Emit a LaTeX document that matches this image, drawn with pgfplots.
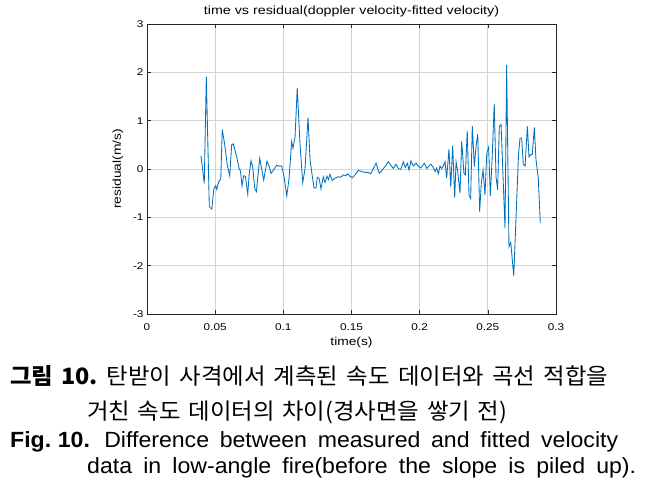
\documentclass[border=0pt]{standalone}
\usepackage{pgfplots}
\pgfplotsset{compat=1.18}
\usepackage{fontspec}
\setmainfont{Liberation Sans}
\newfontfamily\chartfont[FakeStretch=1.2]{Liberation Sans}
\newfontfamily\capfont[FakeStretch=1.05]{Liberation Sans}
\newfontfamily\kr[FakeStretch=1.04]{Noto Sans CJK KR}
\definecolor{mblue}{RGB}{0,114,189}

\begin{document}
\begin{tikzpicture}
\useasboundingbox (0,0) rectangle (653pt,-487pt);
\begin{axis}[
  at={(147pt,-314pt)}, anchor=south west,
  scale only axis, width=409pt, height=290pt,
  xmin=0, xmax=0.3, ymin=-3, ymax=3,
  xtick={0,0.05,0.1,0.15,0.2,0.25,0.3},
  ytick={-3,-2,-1,0,1,2,3},
  grid=major, major grid style={black!17, line width=0.7pt},
  axis line style={black!85, line width=0.6pt},
  tick style={black!85, line width=0.6pt}, major tick length=4pt,
  tick align=inside,
  /pgf/number format/assume math mode=true,
  /pgf/number format/fixed,
  /pgf/number format/precision=2,
  ticklabel style={font=\chartfont\fontsize{9.8}{11}\selectfont},
  xticklabel style={anchor=base}, xticklabel shift=16pt,
  title={time vs residual(doppler velocity-fitted velocity)},
  title style={font=\chartfont\fontsize{11.9}{13}\selectfont, at={(axis description cs:0.5,1.0121)}, anchor=base},
  xlabel={time(s)},
  xlabel style={font=\chartfont\fontsize{11.5}{13}\selectfont, at={(axis description cs:0.5,-0.1103)}, anchor=base},
  ylabel={residual(m/s)},
  ylabel style={font=\chartfont\fontsize{11.5}{13}\selectfont, at={(axis description cs:-0.0709,0.5)}, anchor=center},
]
\addplot[mblue, line width=0.85pt] coordinates {
(0.0396,0.275) (0.0420,-0.30) (0.0435,1.91) (0.0457,-0.78) (0.0475,-0.83)
(0.0491,-0.40) (0.0504,-0.35) (0.0511,-0.42) (0.0526,-0.26) (0.0541,-0.21)
(0.0552,0.82) (0.0570,0.50) (0.0589,0.08) (0.0607,-0.14) (0.0621,0.50)
(0.0633,0.52) (0.0658,0.25) (0.0675,0.02) (0.0686,-0.05) (0.0697,-0.35)
(0.0709,-0.14) (0.0722,-0.15) (0.0739,-0.52) (0.0750,-0.09) (0.0763,0.17)
(0.0775,0.05) (0.0790,-0.40) (0.0802,-0.47) (0.0827,0.22) (0.0838,0.05)
(0.0856,-0.23) (0.0880,0.16) (0.0893,0.08) (0.0910,-0.09) (0.0934,0.00)
(0.0951,0.08) (0.0968,0.06) (0.0988,0.06) (0.1005,-0.15) (0.1025,-0.56)
(0.1042,-0.20) (0.1061,0.57) (0.1071,0.43) (0.1086,0.67) (0.1102,1.68)
(0.1122,0.53) (0.1142,-0.28) (0.1159,0.00) (0.1181,1.07) (0.1196,0.19)
(0.1210,-0.10) (0.1225,-0.39) (0.1240,-0.39) (0.1249,-0.17) (0.1262,-0.19)
(0.1276,-0.41) (0.1293,-0.16) (0.1306,-0.28) (0.1320,-0.15) (0.1331,-0.22)
(0.1342,-0.11) (0.1359,-0.24) (0.1377,-0.19) (0.1403,-0.16) (0.1421,-0.17)
(0.1440,-0.12) (0.1458,-0.14) (0.1472,-0.10) (0.1489,-0.15) (0.1506,-0.18)
(0.1526,-0.12) (0.1550,-0.03) (0.1575,-0.05) (0.1599,-0.07) (0.1621,-0.07)
(0.1641,-0.10) (0.1660,0.01) (0.1680,0.12) (0.1704,-0.09) (0.1729,-0.01)
(0.1753,0.08) (0.1770,0.15) (0.1788,0.08) (0.1807,0.01) (0.1826,0.10)
(0.1843,0.01) (0.1861,-0.01) (0.1880,0.15) (0.1894,0.03) (0.1909,0.12)
(0.1922,-0.02) (0.1936,0.17) (0.1953,0.06) (0.1973,0.12) (0.1990,0.06)
(0.2008,0.02) (0.2034,0.12) (0.2052,0.01) (0.2063,0.05) (0.2083,0.10)
(0.2100,0.03) (0.2113,-0.05) (0.2125,0.02) (0.2137,-0.10) (0.2149,0.06)
(0.2162,0.01) (0.2173,0.06) (0.2186,0.15) (0.2198,-0.19) (0.2215,0.41)
(0.2228,-0.37) (0.2242,0.48) (0.2257,-0.59) (0.2267,0.15) (0.2279,-0.05)
(0.2296,-0.50) (0.2308,0.57) (0.2325,-0.09) (0.2335,-0.12) (0.2349,0.79)
(0.2362,-0.54) (0.2374,-0.61) (0.2386,0.89) (0.2401,0.05) (0.2413,0.45)
(0.2426,0.72) (0.2440,-0.88) (0.2452,-0.30) (0.2465,-0.02) (0.2479,-0.54)
(0.2492,0.32) (0.2506,0.45) (0.2518,-0.56) (0.2531,0.19) (0.2547,1.34)
(0.2560,-0.16) (0.2572,-0.43) (0.2584,0.88) (0.2597,0.92) (0.2626,-1.23)
(0.2638,2.15) (0.2655,-1.61) (0.2668,-1.52) (0.2690,-2.21) (0.2725,0.30)
(0.2736,0.64) (0.2748,0.64) (0.2760,0.10) (0.2773,0.06) (0.2790,0.88)
(0.2802,0.25) (0.2815,0.30) (0.2826,0.30) (0.2841,0.86) (0.2853,0.20)
(0.2870,-0.19) (0.2885,-1.12)
};
\end{axis}
\node[anchor=base west, inner sep=0pt] at (10pt,-384.5pt)
  {\kr\fontsize{22.5}{25}\selectfont\makebox[598pt][s]{{\bfseries 그림\hspace{0.35em}10.}\hspace{0.4em}탄받이 사격에서 계측된 속도 데이터와 곡선 적합을}};
\node[anchor=base west, inner sep=0pt] at (87pt,-419pt)
  {\kr\fontsize{22.5}{25}\selectfont\makebox[420pt][s]{거친 속도 데이터의 차이(경사면을 쌓기 전)}};
\node[anchor=base west, inner sep=0pt] at (10pt,-447.5pt)
  {\capfont\fontsize{22}{25}\selectfont\makebox[608pt][s]{{\bfseries Fig.\hspace{0.3em}10.}\hspace{0.65em}Difference between measured and fitted velocity}};
\node[anchor=base west, inner sep=0pt] at (87pt,-473.5pt)
  {\capfont\fontsize{22}{25}\selectfont\makebox[549pt][s]{data in low-angle fire(before the slope is piled up).}};
\end{tikzpicture}
\end{document}
